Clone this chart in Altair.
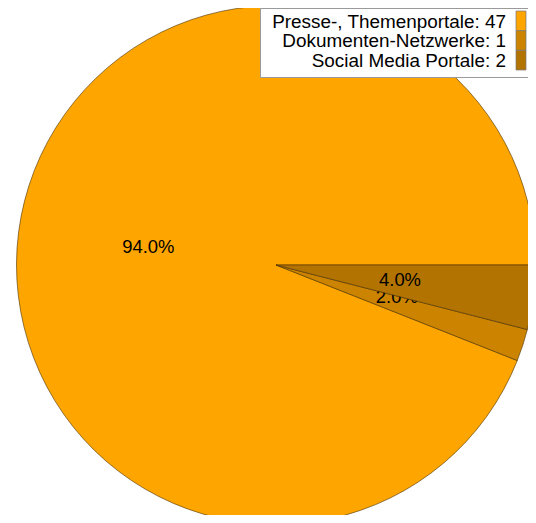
import math
import altair as alt
import pandas as pd

# data
categories = ["Presse-, Themenportale", "Dokumenten-Netzwerke", "Social Media Portale"]
counts = [47, 1, 2]
colors = ["#FFA500", "#CC8400", "#B27300"]
clockwise_rank = [2, 1, 0]  # order of slices clockwise from 3 o'clock

df = pd.DataFrame({"category": categories, "count": counts, "rank": clockwise_rank})

FONT = "Liberation Sans"
CX, CY, R = 268, 257, 259.5

theta_scale = alt.Scale(domain=[0, 1], range=[math.pi / 2, math.pi / 2 + 2 * math.pi])
color_scale = alt.Scale(domain=categories, range=colors)

base = (
    alt.Chart(df)
    .transform_joinaggregate(total="sum(count)")
    .transform_window(cum="sum(count)", sort=[alt.SortField("rank", order="ascending")], frame=[None, 0])
    .transform_calculate(
        start="(datum.cum - datum.count) / datum.total",
        end="datum.cum / datum.total",
        mid="(datum.cum - datum.count / 2) / datum.total",
        pct="format(datum.count / datum.total, '.1%')",
        label="datum.category + ': ' + datum.count",
    )
)


def arcs(flt):
    return base.transform_filter(flt).mark_arc(
        outerRadius=R, stroke="#4a3000", strokeWidth=0.6
    ).encode(
        theta=alt.Theta("start:Q", scale=theta_scale),
        theta2="end:Q",
        color=alt.Color("category:N", scale=color_scale, legend=None),
        x=alt.value(CX),
        y=alt.value(CY),
    )


def labels(cat, dx, dy):
    return base.transform_filter(alt.datum.category == cat).mark_text(
        radius=127, fontSize=18.4, font=FONT, color="black", align="center",
        baseline="middle", dx=dx, dy=dy,
    ).encode(
        theta=alt.Theta("mid:Q", scale=theta_scale),
        text="pct:N",
        x=alt.value(CX),
        y=alt.value(CY),
    )


not_social = "datum.category != 'Social Media Portale'"
social = "datum.category == 'Social Media Portale'"

box = alt.Chart(pd.DataFrame({"a": [0]})).mark_rect(
    fill="white", stroke="#9a9a9a", strokeWidth=1
).encode(x=alt.value(252.5), x2=alt.value(545), y=alt.value(0.5), y2=alt.value(69.5))

legend_text = base.mark_text(
    align="right", baseline="middle", fontSize=18.9, font=FONT, color="black"
).encode(
    x=alt.value(498),
    y=alt.Y("category:N", scale=alt.Scale(type="point", domain=categories, range=[13.5, 52.5], padding=0), axis=None),
    text="label:N",
)

legend_sq = base.mark_rect(stroke="#777", strokeWidth=0.7).encode(
    x=alt.value(508),
    x2=alt.value(518),
    y=alt.Y("category:N", scale=alt.Scale(type="band", domain=categories, range=[3, 62], paddingInner=0, paddingOuter=0), axis=None),
    color=alt.Color("category:N", scale=color_scale, legend=None),
)

chart = (
    alt.layer(
        arcs(not_social),
        labels("Presse-, Themenportale", -3, 6),
        labels("Dokumenten-Netzwerke", 0, -7),
        arcs(social),
        labels("Social Media Portale", -2, -1),
        box, legend_text, legend_sq,
    )
    .resolve_scale(y="independent")
    .properties(width=520, height=507, autosize=alt.AutoSizeParams(type="none"), padding=0)
    .configure_view(stroke=None)
)

chart.save("out.html", embed_options={"renderer": "svg", "actions": False})
